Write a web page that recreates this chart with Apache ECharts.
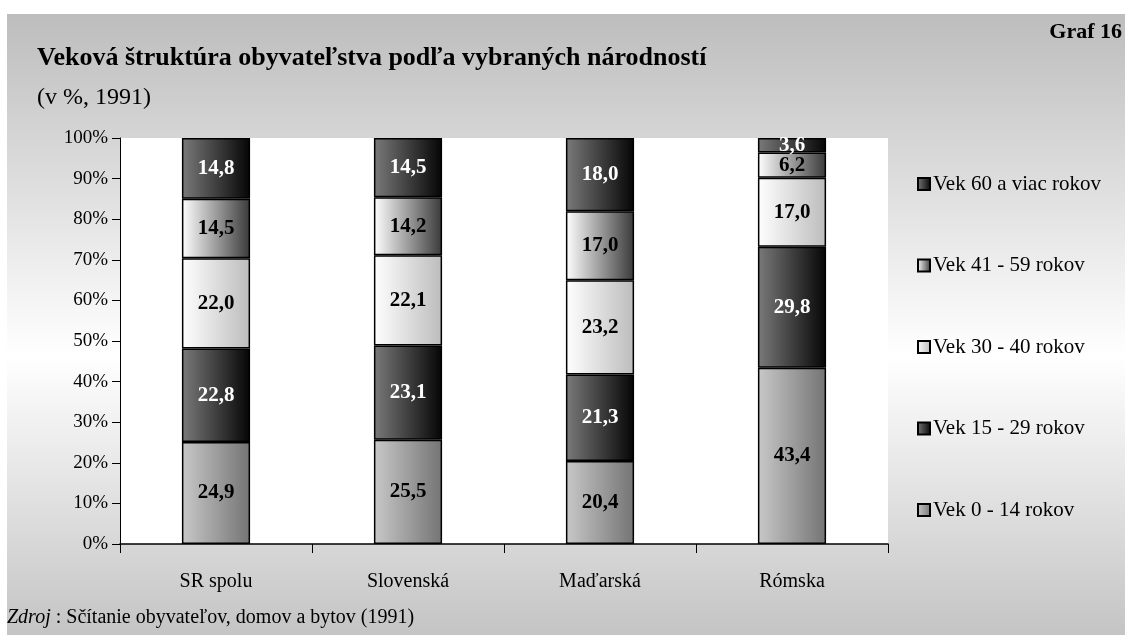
<!DOCTYPE html>
<html>
<head>
<meta charset="utf-8">
<script src="https://cdn.jsdelivr.net/npm/echarts@6/dist/echarts.min.js"></script>
<style>
html,body{margin:0;padding:0;background:#fff;}
#chart{width:1125px;height:635px;}
</style>
</head>
<body>
<div id="chart"></div>
<script>
//--- data
var categories = ['SR spolu', 'Slovenská', 'Maďarská', 'Rómska'];
var age0_14   = [24.9, 25.5, 20.4, 43.4];
var age15_29  = [22.8, 23.1, 21.3, 29.8];
var age30_40  = [22.0, 22.1, 23.2, 17.0];
var age41_59  = [14.5, 14.2, 17.0, 6.2];
var age60     = [14.8, 14.5, 18.0, 3.6];
var seriesNames = ['Vek 0 - 14 rokov', 'Vek 15 - 29 rokov', 'Vek 30 - 40 rokov', 'Vek 41 - 59 rokov', 'Vek 60 a viac rokov'];
var yTicks = ['0%', '10%', '20%', '30%', '40%', '50%', '60%', '70%', '80%', '90%', '100%'];

var FONT = "'Liberation Serif','Times New Roman',serif";
var raw = [age0_14, age15_29, age30_40, age41_59, age60];

// 100% stacked: share of each group within category
var totals = categories.map(function(c, i){
	var s = 0;
	for (var k = 0; k < raw.length; k++) s += raw[k][i];
	return s;
});

function grad(c0, c1){
	return new echarts.graphic.LinearGradient(0, 0, 1, 0, [
		{offset: 0, color: c0},
		{offset: 1, color: c1}
	]);
}
var fills = [
	grad('#c8c8c8', '#747474'),
	grad('#7a7a7a', '#050505'),
	grad('#ffffff', '#bcbcbc'),
	grad('#ffffff', '#3a3a3a'),
	grad('#7a7a7a', '#050505')
];
var labelColors = ['#000', '#fff', '#000', '#000', '#fff'];

var series = raw.map(function(arr, k){
	return {
		name: seriesNames[k],
		type: 'bar',
		stack: 'all',
		barWidth: '35.5%',
		data: arr.map(function(v, i){ return v / totals[i] * 100; }),
		itemStyle: {color: fills[k], borderColor: '#000', borderWidth: 1.5},
		label: {
			show: true,
			position: 'inside',
			color: labelColors[k],
			fontFamily: FONT,
			fontWeight: 'bold',
			fontSize: 21,
			formatter: function(p){ return raw[p.seriesIndex][p.dataIndex].toFixed(1).replace('.', ','); }
		}
	};
});

var myChart = echarts.init(document.getElementById('chart'));
var option = {
	animation: false,
	backgroundColor: '#fff',
	textStyle: {fontFamily: FONT},
	graphic: [{
		type: 'rect',
		z: -100,
		shape: {x: 7, y: 14, width: 1118, height: 621},
		style: {
			fill: new echarts.graphic.LinearGradient(0, 0, 0, 1, [
				{offset: 0, color: '#bdbdbd'},
				{offset: 0.55, color: '#ffffff'},
				{offset: 1, color: '#c4c4c4'}
			])
		}
	}, {
		type: 'text',
		left: 37, top: 45,
		style: {text: 'Veková štruktúra obyvateľstva podľa vybraných národností', font: 'bold 26px ' + FONT, fill: '#000'}
	}, {
		type: 'text',
		left: 37, top: 86,
		style: {text: '(v %, 1991)', font: '24px ' + FONT, fill: '#000'}
	}, {
		type: 'text',
		right: 3, top: 21,
		style: {text: 'Graf 16', font: 'bold 22px ' + FONT, fill: '#000'}
	}, {
		type: 'text',
		left: 7, top: 608,
		style: {
			text: '{i|Zdroj} : Sčítanie obyvateľov, domov a bytov (1991)',
			font: '20px ' + FONT, fill: '#000',
			rich: {i: {fontStyle: 'italic', fontSize: 20, fontFamily: FONT}}
		}
	}],
	legend: {
		orient: 'vertical',
		left: 912,
		top: 168,
		data: seriesNames.slice().reverse(),
		itemWidth: 12,
		itemHeight: 12,
		itemGap: 59.5,
		icon: 'rect',
		textStyle: {fontFamily: FONT, fontSize: 21, color: '#000', lineHeight: 22, padding: [0, 0, 0, -2]}
	},
	grid: {
		left: 120, right: 237, top: 138, bottom: 91,
		show: true, backgroundColor: '#fff', borderWidth: 0
	},
	xAxis: {
		type: 'category',
		data: categories,
		axisLine: {lineStyle: {color: '#000', width: 1.5}},
		axisTick: {show: true, length: 9, lineStyle: {color: '#000'}},
		axisLabel: {color: '#000', fontSize: 20, fontFamily: FONT, margin: 28}
	},
	yAxis: {
		type: 'value',
		min: 0, max: 100, interval: 10,
		axisLine: {show: true, lineStyle: {color: '#000', width: 1}},
		axisTick: {show: true, length: 8, lineStyle: {color: '#000'}},
		splitLine: {show: false},
		axisLabel: {
			color: '#000', fontSize: 19, fontFamily: FONT, margin: 12,
			formatter: function(v){ return yTicks[Math.round(v / 10)]; }
		}
	},
	series: series
};
myChart.setOption(option);
</script>
</body>
</html>
